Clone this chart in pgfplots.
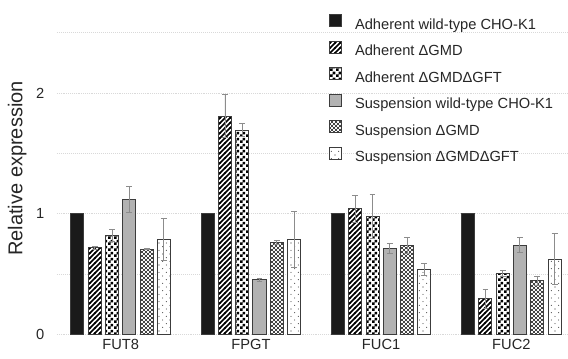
\documentclass[border=0pt]{standalone}
\usepackage{fontspec}
\setmainfont{Liberation Sans}
\usepackage{pgfplots}
\pgfplotsset{compat=1.18}
\usetikzlibrary{patterns}
\definecolor{txt}{HTML}{262626}
\definecolor{bord}{HTML}{3C3C3C}
\definecolor{barblack}{HTML}{1A1A1A}
\definecolor{bargray}{HTML}{B2B2B2}
\definecolor{errc}{HTML}{8C8C8C}
\definecolor{gridc}{HTML}{D9D9D9}

\pgfdeclarepatternformonly{myhatch}{\pgfqpoint{-1pt}{-1pt}}{\pgfqpoint{4.75pt}{4.75pt}}{\pgfqpoint{3.75pt}{3.75pt}}{%
  \pgfsetlinewidth{1.3pt}%
  \pgfpathmoveto{\pgfqpoint{-0.5pt}{-0.5pt}}%
  \pgfpathlineto{\pgfqpoint{4.25pt}{4.25pt}}%
  \pgfusepath{stroke}}
\pgfdeclarepatternformonly{mychecker}{\pgfqpoint{0pt}{0pt}}{\pgfqpoint{4.5pt}{4.5pt}}{\pgfqpoint{4.5pt}{4.5pt}}{%
  \pgfpathrectangle{\pgfqpoint{0pt}{0pt}}{\pgfqpoint{2.25pt}{2.25pt}}%
  \pgfpathrectangle{\pgfqpoint{2.25pt}{2.25pt}}{\pgfqpoint{2.25pt}{2.25pt}}%
  \pgfusepath{fill}}
\pgfdeclarepatternformonly{mydense}{\pgfqpoint{-1pt}{-1pt}}{\pgfqpoint{4pt}{4pt}}{\pgfqpoint{3pt}{3pt}}{%
  \pgfpathcircle{\pgfqpoint{0pt}{0pt}}{0.8pt}%
  \pgfpathcircle{\pgfqpoint{1.5pt}{1.5pt}}{0.8pt}%
  \pgfusepath{fill}}
\pgfdeclarepatternformonly{mysparse}{\pgfqpoint{-1pt}{-1pt}}{\pgfqpoint{6.5pt}{6.5pt}}{\pgfqpoint{5.5pt}{5.5pt}}{%
  \pgfpathcircle{\pgfqpoint{1pt}{1pt}}{0.4pt}%
  \pgfpathcircle{\pgfqpoint{3.75pt}{3.75pt}}{0.4pt}%
  \pgfusepath{fill}}

% x = group index (0 FUT8, 1 FPGT, 2 FUC1, 3 FUC2) + position of the bar in the group
\pgfplotstableread{
x       y      e
-0.332  1.000  0
0.668   1.000  0
1.668   1.000  0
2.668   1.000  0
}\sA
\pgfplotstableread{
x       y      e
-0.199  0.718  0.011
0.801   1.808  0.179
1.801   1.041  0.114
2.801   0.293  0.077
}\sB
\pgfplotstableread{
x       y      e
-0.066  0.823  0.050
0.934   1.692  0.054
1.934   0.978  0.180
2.934   0.503  0.027
}\sC
\pgfplotstableread{
x       y      e
0.066   1.119  0.110
1.066   0.453  0.014
2.066   0.713  0.044
3.066   0.738  0.063
}\sD
\pgfplotstableread{
x       y      e
0.199   0.707  0.005
1.199   0.762  0.017
2.199   0.735  0.066
3.199   0.442  0.039
}\sE
\pgfplotstableread{
x       y      e
0.332   0.787  0.174
1.332   0.787  0.230
2.332   0.539  0.052
3.332   0.624  0.210
}\sF

\begin{document}
\begin{tikzpicture}
\useasboundingbox (-42.75pt,-17.775pt) rectangle (383.25pt,250.725pt);
\begin{axis}[
  at={(0pt,0pt)}, anchor=south west,
  scale only axis,
  width=383.25pt, height=248.74pt,
  xmin=-0.489, xmax=3.435,
  ymin=0, ymax=2.75,
  axis line style={draw=none},
  tick style={draw=none},
  xtick={0,1,2,3},
  xticklabels={FUT8,FPGT,FUC1,FUC2},
  ytick={0,1,2},
  minor ytick={0.5,1.5,2.5},
  ymajorgrids, yminorgrids,
  grid style={gridc, densely dotted, line width=0.5pt},
  minor grid style={gridc, densely dotted, line width=0.5pt},
  /pgf/number format/assume math mode=true,
  tick label style={font=\fontsize{11}{13}\selectfont, text=txt},
  yticklabel style={xshift=-6pt},
  xticklabel style={yshift=0pt},
  ylabel={Relative expression},
  ylabel style={font=\fontsize{15}{17}\selectfont, text=txt, at={(axis description cs:-0.078,0.5)}, anchor=center},
  legend cell align=left,
  legend style={at={(axis cs:1.6,2.654)}, anchor=north west, draw=none, fill=none,
    font=\fontsize{11}{13}\selectfont, text=txt,
    inner sep=0pt, outer sep=0pt, row sep=6.25pt, column sep=9.75pt,
    nodes={inner sep=0pt, text height=8.5pt, text depth=2.5pt}},
  legend image code/.code={\draw[#1] (0pt,-1.25pt) rectangle (9pt,7.75pt);},
  error bars/y dir=both,
  error bars/y explicit,
  error bars/error bar style={errc, line width=0.7pt},
  error bars/error mark options={rotate=90, errc, mark size=2.2pt, line width=0.7pt},
]
\addplot[ybar, bar width=0.1, bar shift=0, fill=barblack, draw=bord, line width=0.75pt] table[x=x,y=y] {\sA};
\addlegendentry{Adherent wild-type CHO-K1}
\addplot[ybar, bar width=0.1, bar shift=0, fill=white, draw=bord, line width=0.75pt, postaction={pattern=myhatch, pattern color=black}] table[x=x,y=y,y error=e] {\sB};
\addlegendentry{Adherent ΔGMD}
\addplot[ybar, bar width=0.1, bar shift=0, fill=white, draw=bord, line width=0.75pt, postaction={pattern=mychecker, pattern color=black}] table[x=x,y=y,y error=e] {\sC};
\addlegendentry{Adherent ΔGMDΔGFT}
\addplot[ybar, bar width=0.1, bar shift=0, fill=bargray, draw=bord, line width=0.75pt] table[x=x,y=y,y error=e] {\sD};
\addlegendentry{Suspension wild-type CHO-K1}
\addplot[ybar, bar width=0.1, bar shift=0, fill=white, draw=bord, line width=0.75pt, postaction={pattern=mydense, pattern color=black}] table[x=x,y=y,y error=e] {\sE};
\addlegendentry{Suspension ΔGMD}
\addplot[ybar, bar width=0.1, bar shift=0, fill=white, draw=bord, line width=0.75pt, postaction={pattern=mysparse, pattern color=black!80}] table[x=x,y=y,y error=e] {\sF};
\addlegendentry{Suspension ΔGMDΔGFT}
\end{axis}
\end{tikzpicture}
\end{document}
